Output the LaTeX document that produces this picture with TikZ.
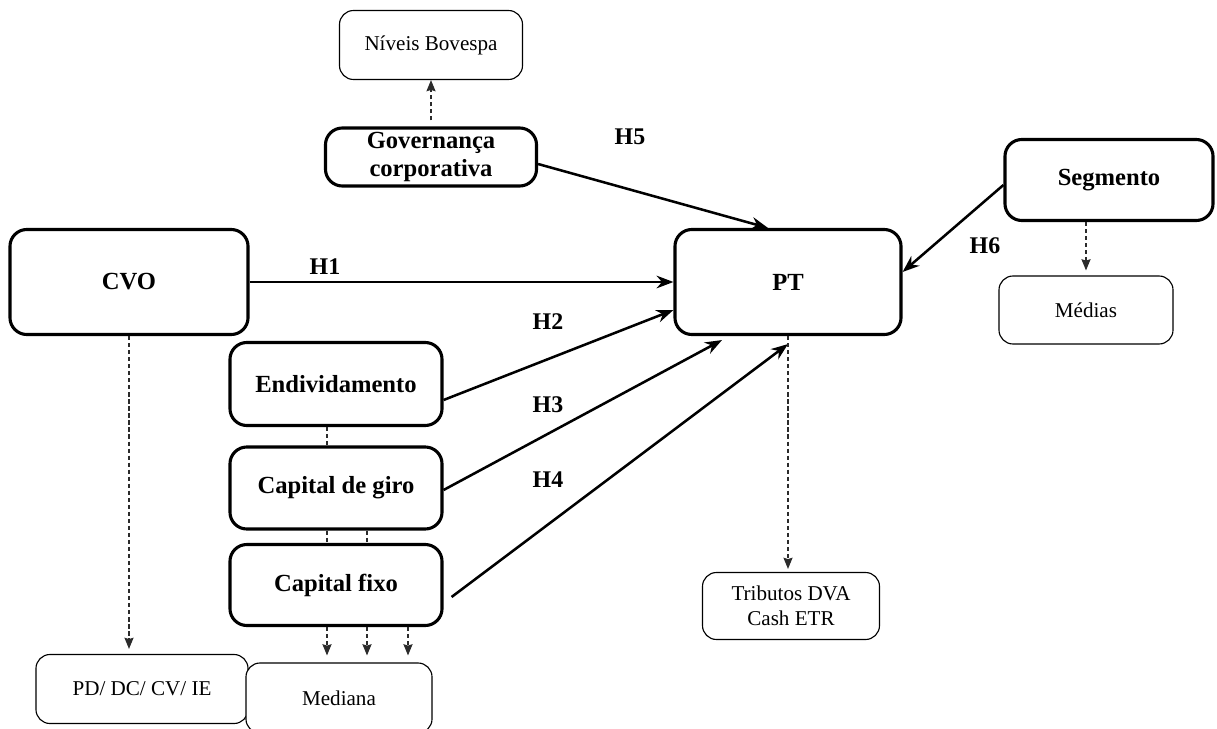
\documentclass[tikz,border=0pt]{standalone}
\usepackage{fontspec}
\setmainfont{Liberation Serif}
\usepackage{tikz}
\usetikzlibrary{positioning,calc,arrows.meta}
\definecolor{Contorno}{HTML}{000000}
\definecolor{Tracejado}{HTML}{2B2B2B}

\tikzset{
	varbox/.style={draw=Contorno, line width=2.2pt, rounded corners=12pt, fill=white,
		align=center, inner sep=2pt, font=\fontsize{17.5}{20}\selectfont\bfseries},
	medbox/.style={draw=Contorno, line width=0.8pt, rounded corners=10pt, fill=white,
		align=center, inner sep=2pt, font=\fontsize{15}{18}\selectfont},
	hyparrow/.style={-{Stealth[length=12pt,width=9pt]}, line width=1.8pt},
	dline/.style={draw=Tracejado, line width=0.8pt, dash pattern=on 3pt off 2pt},
	dasharrow/.style={dline, -{Stealth[length=8pt,width=6.5pt,inset=1pt]}},
	hlabel/.style={font=\fontsize{17}{20}\selectfont\bfseries}
}

\begin{document}
\begin{tikzpicture}[x=0.025cm, y=-0.025cm]
	\useasboundingbox (0,0) rectangle (1217,729);

	% variaveis
	\node[varbox, minimum width=5.95cm, minimum height=2.625cm] (cvo) at (129,282) {CVO};
	\node[varbox, minimum width=5.65cm, minimum height=2.625cm] (pt) at (788,282) {PT};
	\node[varbox, minimum width=5.275cm, minimum height=1.45cm] (gov) at (431,157) {Governança\\corporativa};
	\node[varbox, minimum width=5.2cm, minimum height=2.025cm] (seg) at (1109,180) {Segmento};
	\node[varbox, minimum width=5.3cm, minimum height=2.075cm] (endiv) at (336,384) {Endividamento};
	\node[varbox, minimum width=5.3cm, minimum height=2.05cm] (giro) at (336,488) {Capital de giro};
	\node[varbox, minimum width=5.3cm, minimum height=2.025cm] (fixo) at (336,585) {Capital fixo};

	% medidas
	\node[medbox, minimum width=4.575cm, minimum height=1.725cm] (niveis) at (431,45) {Níveis Bovespa};
	\node[medbox, minimum width=4.35cm, minimum height=1.7cm] (medias) at (1086,310) {Médias};
	\node[medbox, minimum width=5.3cm, minimum height=1.725cm] (pd) at (142,689) {PD/ DC/ CV/ IE};
	\node[medbox, minimum width=4.425cm, minimum height=1.675cm] (trib) at (791,606) {Tributos DVA\\Cash ETR};
	\node[medbox, minimum width=4.65cm, minimum height=1.75cm] (mediana) at (339,698) {Mediana};

	% hipoteses
	\draw[hyparrow] (cvo.east) -- (pt.west);
	\draw[hyparrow] ($(endiv.east)+(0,16)$) -- ($(pt.west)+(0,28)$);
	\draw[hyparrow] ($(giro.east)+(0,2)$) -- ($(pt.south)+(-66,4)$);
	\draw[hyparrow] ($(fixo.east)+(8,12)$) -- ($(pt.south)+(0,8)$);
	\draw[hyparrow] ($(gov.east)+(0,7)$) -- ($(pt.north)+(-20,0)$);
	\draw[hyparrow] ($(seg.west)+(0,5)$) -- ($(pt.east)+(0,-10)$);

	\node[hlabel] (h1) at (325,267) {H1};
	\node[hlabel] (h2) at (548,322) {H2};
	\node[hlabel] (h3) at (548,405) {H3};
	\node[hlabel] (h4) at (548,480) {H4};
	\node[hlabel] (h5) at (630,137) {H5};
	\node[hlabel] (h6) at (985,246) {H6};

	% tracejados
	\draw[dasharrow] ($(gov.north)+(0,-6)$) -- (niveis.south);
	\draw[dasharrow] (cvo.south) -- ($(cvo.south |- pd.north)+(0,-5)$);
	\draw[dasharrow] (medias.north |- seg.south) -- ($(medias.north)+(0,-5)$);
	\draw[dasharrow] (pt.south) -- ($(pt.south |- trib.north)+(0,-3)$);
	\draw[dline] ($(endiv.south)+(-9,0)$) -- ($(giro.north)+(-9,0)$);
	\draw[dline] ($(giro.south)+(-9,0)$) -- ($(fixo.north)+(-9,0)$);
	\draw[dline] ($(giro.south)+(31,0)$) -- ($(fixo.north)+(31,0)$);
	\foreach \dx in {-9,31,72}
		\draw[dasharrow] ($(fixo.south)+(\dx,0)$) -- ($(fixo.south |- mediana.north)+(\dx,-7)$);
\end{tikzpicture}
\end{document}
